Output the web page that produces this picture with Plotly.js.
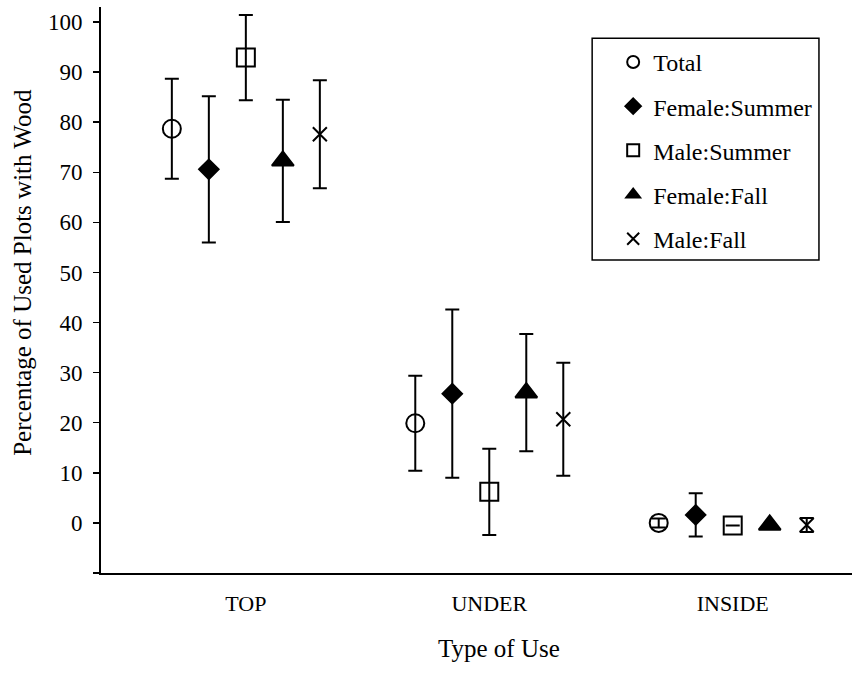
<!DOCTYPE html>
<html>
<head>
<meta charset="utf-8">
<script src="https://cdn.plot.ly/plotly-3.0.1.min.js"></script>
<style>html,body{margin:0;padding:0;background:#fff;}#chart{width:857px;height:689px;}</style>
</head>
<body>
<div id="chart"></div>
<script>
// ---- data ----
const categories = ['TOP', 'UNDER', 'INSIDE'];
const seriesNames = ['Total', 'Female:Summer', 'Male:Summer', 'Female:Fall', 'Male:Fall'];

const totalVals = [78.7, 19.9, 0.0];
const totalErr = [10.0, 9.5, 0.9];

const femaleSummerVals = [70.6, 25.8, 1.6];
const femaleSummerErr = [14.6, 16.8, 4.3];

const maleSummerVals = [92.9, 6.2, -0.5];
const maleSummerErr = [8.5, 8.6, 0.0];

const femaleFallVals = [72.3, 26.0, -0.4];
const femaleFallErr = [12.2, 11.7, 0.0];

const maleFallVals = [77.6, 20.7, -0.4];
const maleFallErr = [10.8, 11.3, 1.4];

const yTickVals = [-10, 0, 10, 20, 30, 40, 50, 60, 70, 80, 90, 100];
const yTickText = ['', '0', '10', '20', '30', '40', '50', '60', '70', '80', '90', '100'];

const xTitle = 'Type of Use';
const yTitle = 'Percentage of Used Plots with Wood';

// ---- styling ----
const FONT = 'Liberation Serif, Times New Roman, serif';
const values = [totalVals, femaleSummerVals, maleSummerVals, femaleFallVals, maleFallVals];
const errors = [totalErr, femaleSummerErr, maleSummerErr, femaleFallErr, maleFallErr];
const symbols = ['circle-open', 'diamond', 'square-open', 'triangle-up', 'x-thin-open'];
const sizes = [18, 15, 18, 19, 14];

const traces = seriesNames.map((name, i) => ({
  type: 'scatter',
  mode: 'markers',
  name: name,
  x: categories,
  y: values[i],
  legendgroup: 'g' + i,
  marker: {
    symbol: symbols[i],
    size: sizes[i],
    color: '#000',
    line: {color: '#000', width: 2}
  },
  error_y: {
    type: 'data',
    array: errors[i],
    visible: true,
    color: '#000',
    thickness: 2,
    width: 7
  },
  cliponaxis: false
}));

const layout = {
  width: 857,
  height: 689,
  paper_bgcolor: '#fff',
  plot_bgcolor: '#fff',
  font: {family: FONT, color: '#000', size: 21},
  margin: {l: 101, r: 5, t: 7, b: 116},
  scattermode: 'group',
  scattergap: 0.24,
  showlegend: true,
  legend: {
    x: 0.682, y: 0.942, xanchor: 'left', yanchor: 'top',
    bgcolor: 'rgba(0,0,0,0)',
    borderwidth: 0,
    font: {family: FONT, size: 24, color: '#000'},
    traceorder: 'grouped',
    tracegroupgap: 10,
    itemsizing: 'constant'
  },
  xaxis: {
    type: 'category',
    range: [-0.595, 2.49],
    showline: true,
    linecolor: '#000',
    linewidth: 2,
    ticks: '',
    showgrid: false,
    zeroline: false,
    tickfont: {family: FONT, size: 22},
    ticklabelstandoff: 10,
    automargin: false
  },
  yaxis: {
    range: [-10, 103],
    showline: true,
    linecolor: '#000',
    linewidth: 2,
    ticks: 'outside',
    ticklen: 6,
    tickwidth: 1.5,
    tickcolor: '#000',
    tickvals: yTickVals,
    ticktext: yTickText,
    showgrid: false,
    zeroline: false,
    tickfont: {family: FONT, size: 23},
    ticklabelstandoff: 6,
    automargin: false
  },
  annotations: [{
    text: xTitle, xref: 'paper', yref: 'paper',
    x: 0.53, y: -0.133, xanchor: 'center', yanchor: 'middle',
    showarrow: false,
    font: {family: FONT, size: 25, color: '#000'}
  }, {
    text: yTitle, xref: 'paper', yref: 'paper',
    x: -0.104, y: 0.532, xanchor: 'center', yanchor: 'middle',
    textangle: -90,
    showarrow: false,
    font: {family: FONT, size: 25, color: '#000'}
  }],
  shapes: [{
    type: 'rect', xref: 'paper', yref: 'paper',
    x0: 0.654, x1: 0.956, y0: 0.553, y1: 0.945,
    line: {color: '#000', width: 1.5},
    fillcolor: 'rgba(0,0,0,0)'
  }]
};

Plotly.newPlot('chart', traces, layout, {displayModeBar: false, staticPlot: true});
</script>
</body>
</html>
